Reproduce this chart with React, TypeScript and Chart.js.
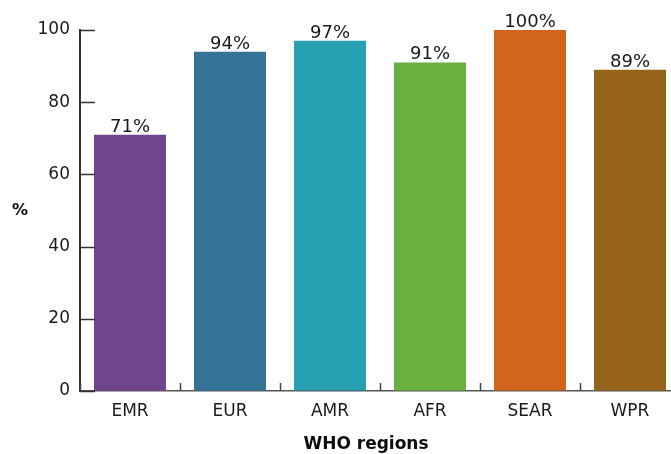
import React, { useEffect, useRef } from "react";
import { Chart, registerables } from "chart.js";

Chart.register(...registerables);

const categories = ["EMR", "EUR", "AMR", "AFR", "SEAR", "WPR"];
const values = [71, 94, 97, 91, 100, 89];
const barColors = ["#70458f", "#347296", "#26a0b2", "#68b141", "#d3641e", "#96631b"];
const yTicks = [0, 20, 40, 60, 80, 100];
const xTitle = "WHO regions";
const yTitle = "%";

const FONT = "'DejaVu Sans', sans-serif";

const decorPlugin = {
  id: "decor",
  afterDraw(chart: any) {
    const ctx = chart.ctx;
    const area = chart.chartArea;
    const xs = chart.scales.x;
    const ys = chart.scales.y;
    ctx.save();
    // inward y ticks
    ctx.strokeStyle = "#333";
    ctx.lineWidth = 1.5;
    yTicks.forEach((v) => {
      const py = Math.round(ys.getPixelForValue(v)) + 0.5;
      ctx.beginPath();
      ctx.moveTo(area.left, py);
      ctx.lineTo(area.left + 15, py);
      ctx.stroke();
    });
    // inward x ticks at category boundaries
    ctx.strokeStyle = "#444";
    ctx.lineWidth = 1.5;
    const n = categories.length;
    const step = xs.getPixelForValue(1) - xs.getPixelForValue(0);
    for (let i = 0; i <= n; i++) {
      const px = Math.round(xs.getPixelForValue(i) - step / 2) + 0.5;
      ctx.beginPath();
      ctx.moveTo(px, area.bottom);
      ctx.lineTo(px, area.bottom - 8);
      ctx.stroke();
    }
    // value labels
    const meta = chart.getDatasetMeta(0);
    ctx.fillStyle = "#1a1a1a";
    ctx.font = `18px ${FONT}`;
    ctx.textAlign = "center";
    ctx.textBaseline = "alphabetic";
    meta.data.forEach((bar: any, i: number) => {
      ctx.fillText(values[i] + "%", bar.x, bar.y - 3);
    });
    // axis titles
    ctx.fillStyle = "#0d0d0d";
    ctx.font = `bold 17px ${FONT}`;
    ctx.textBaseline = "middle";
    ctx.fillText(xTitle, area.left + 286, area.bottom + 54);
    ctx.font = `bold 16px ${FONT}`;
    ctx.fillText(yTitle, 20, (ys.getPixelForValue(40) + ys.getPixelForValue(60)) / 2);
    ctx.restore();
  },
};

export default function App() {
  const ref = useRef<HTMLCanvasElement | null>(null);
  useEffect(() => {
    if (!ref.current) return;
    const chart = new Chart(ref.current, {
      type: "bar",
      data: {
        labels: categories,
        datasets: [
          {
            data: values,
            backgroundColor: barColors,
            borderWidth: 0,
            barPercentage: 0.72,
            categoryPercentage: 1,
          },
        ],
      },
      options: {
        animation: false,
        responsive: false,
        maintainAspectRatio: false,
        devicePixelRatio: 1,
        layout: { padding: { top: 30, right: 10, bottom: 0, left: 0 } },
        plugins: {
          legend: { display: false },
          tooltip: { enabled: false },
          title: { display: false },
        },
        scales: {
          x: {
            offset: true,
            grid: { display: true, drawOnChartArea: false, drawTicks: false, offset: true },
            border: { display: true, color: "#555", width: 1.5 },
            ticks: { color: "#1a1a1a", font: { family: FONT, size: 17 }, padding: 10 },
            afterFit(scale: any) {
              scale.height = 63;
            },
          },
          y: {
            min: 0,
            max: 100,
            grid: { display: true, drawOnChartArea: false, drawTicks: false },
            border: { display: true, color: "#333", width: 2 },
            ticks: {
              stepSize: 20,
              color: "#1a1a1a",
              font: { family: FONT, size: 17 },
              padding: 10,
            },
            afterFit(scale: any) {
              scale.width = 80;
            },
          },
        },
      },
      plugins: [decorPlugin],
    });
    return () => chart.destroy();
  }, []);
  return (
    <div
      style={{
        position: "absolute",
        top: 0,
        left: 0,
        width: 671,
        height: 454,
        overflow: "hidden",
        background: "#fff",
      }}
    >
      <canvas ref={ref} width={690} height={454} style={{ width: 690, height: 454, display: "block" }} />
    </div>
  );
}
